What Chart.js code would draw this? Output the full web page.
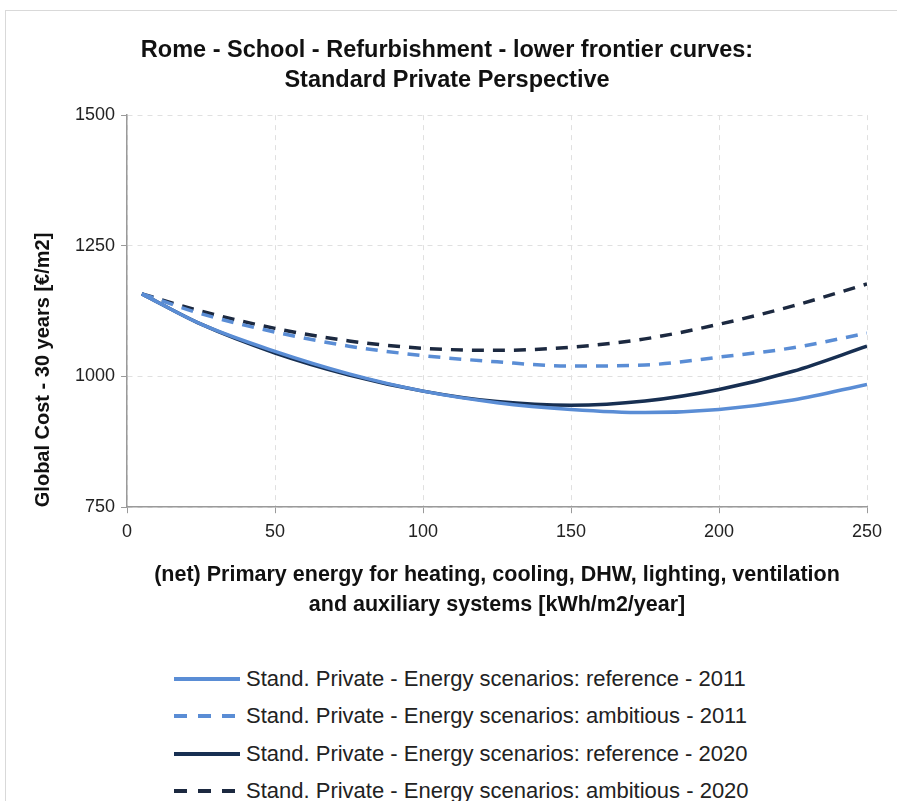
<!DOCTYPE html>
<html><head><meta charset="utf-8">
<script src="https://cdn.jsdelivr.net/npm/chart.js@4/dist/chart.umd.min.js"></script>
<style>
html,body{margin:0;padding:0;background:#fff;}
#frame{position:absolute;left:5px;top:10px;width:900px;height:800px;border:1px solid #d9d9d9;box-sizing:border-box;}
#wrap{position:absolute;left:0;top:0;width:897px;height:630px;}
#legend{position:absolute;left:172px;top:660px;font-family:"Liberation Sans",sans-serif;font-size:22px;color:#222;}
.row{display:flex;align-items:center;height:37.5px;}
.row svg{margin-right:4px;}
</style></head>
<body>
<div id="frame"></div>
<div id="wrap"><canvas id="c"></canvas></div>
<div id="legend"></div>
<script>
const energy = [5, 25, 50, 75, 100, 125, 150, 175, 200, 225, 250];
const ref2011 = [1158, 1100, 1048, 1005, 972, 950, 937, 931, 937, 955, 985];
const amb2011 = [1158, 1120, 1085, 1058, 1040, 1028, 1020, 1022, 1037, 1055, 1083];
const ref2020 = [1158, 1100, 1045, 1003, 972, 952, 945, 953, 975, 1010, 1058];
const amb2020 = [1158, 1125, 1092, 1068, 1054, 1050, 1056, 1072, 1100, 1135, 1177];
const seriesNames = [
 "Stand. Private - Energy scenarios: reference - 2011",
 "Stand. Private - Energy scenarios: ambitious - 2011",
 "Stand. Private - Energy scenarios: reference - 2020",
 "Stand. Private - Energy scenarios: ambitious - 2020"
];
const xTicks = [0, 50, 100, 150, 200, 250];
const yTicks = [750, 1000, 1250, 1500];

const styles = [
 {color:"#5a8dd5", dash:[]},
 {color:"#5a8dd5", dash:[12,9]},
 {color:"#172f52", dash:[]},
 {color:"#1c2940", dash:[12,9]}
];
const seriesVals = [ref2011, amb2011, ref2020, amb2020];
const datasets = seriesVals.map((vals,i)=>({
  label: seriesNames[i],
  data: energy.map((x,j)=>({x:x, y:vals[j]})),
  borderColor: styles[i].color,
  borderDash: styles[i].dash,
  borderWidth: 3.5,
  pointRadius: 0,
  fill: false,
  cubicInterpolationMode: 'monotone'
}));
const ordered = [datasets[0], datasets[1], datasets[3], datasets[2]];

const font = "'Liberation Sans',sans-serif";
new Chart(document.getElementById('c'), {
  type: 'line',
  data: { datasets: ordered },
  options: {
    responsive: true, maintainAspectRatio: false, animation: false,
    layout: { padding: { left: 27, right: 30, top: 35, bottom: 10 } },
    plugins: {
      legend: { display: false },
      tooltip: { enabled: false },
      title: {
        display: true,
        text: ["Rome - School - Refurbishment - lower frontier curves:", "Standard Private Perspective"],
        font: { family: font, size: 23.5, weight: 'bold', lineHeight: 1.3 },
        color: '#111',
        padding: { top: 0, bottom: 19 }
      }
    },
    scales: {
      x: {
        type: 'linear', min: 0, max: 250,
        afterBuildTicks: (ax)=>{ ax.ticks = xTicks.map(v=>({value:v})); },
        ticks: { font: { family: font, size: 18 }, color: '#222', padding: 8, callback: v=>String(v) },
        grid: { color: '#e0e0e0', tickLength: 6, tickColor: '#9a9a9a', tickBorderDash: [] },
        border: { color: '#9a9a9a', width: 1.5, dash: [5,5] },
        title: {
          display: true,
          text: ["(net) Primary energy for heating, cooling, DHW, lighting, ventilation", "and auxiliary systems [kWh/m2/year]"],
          font: { family: font, size: 21.5, weight: 'bold', lineHeight: 1.4 },
          color: '#111',
          padding: { top: 9, bottom: 0 }
        }
      },
      y: {
        type: 'linear', min: 750, max: 1500,
        afterBuildTicks: (ax)=>{ ax.ticks = yTicks.map(v=>({value:v})); },
        ticks: { font: { family: font, size: 18 }, color: '#222', padding: 6, callback: v=>String(v) },
        grid: { color: '#e0e0e0', tickLength: 6, tickColor: '#9a9a9a', tickBorderDash: [] },
        border: { color: '#9a9a9a', width: 1.5, dash: [5,5] },
        title: {
          display: true,
          text: "Global Cost - 30 years [€/m2]",
          align: 'start',
          font: { family: font, size: 20, weight: 'bold' },
          color: '#111',
          padding: { bottom: 14 }
        }
      }
    }
  }
});

const leg = document.getElementById('legend');
seriesNames.forEach((name,i)=>{
  const st = styles[i];
  const row = document.createElement('div'); row.className='row';
  const dash = st.dash.length ? 'stroke-dasharray="13,11"' : '';
  row.innerHTML = `<svg width="70" height="10"><line x1="2" y1="5" x2="68" y2="5" stroke="${st.color}" stroke-width="4" ${dash}/></svg><span>${name}</span>`;
  leg.appendChild(row);
});
</script>
</body></html>
